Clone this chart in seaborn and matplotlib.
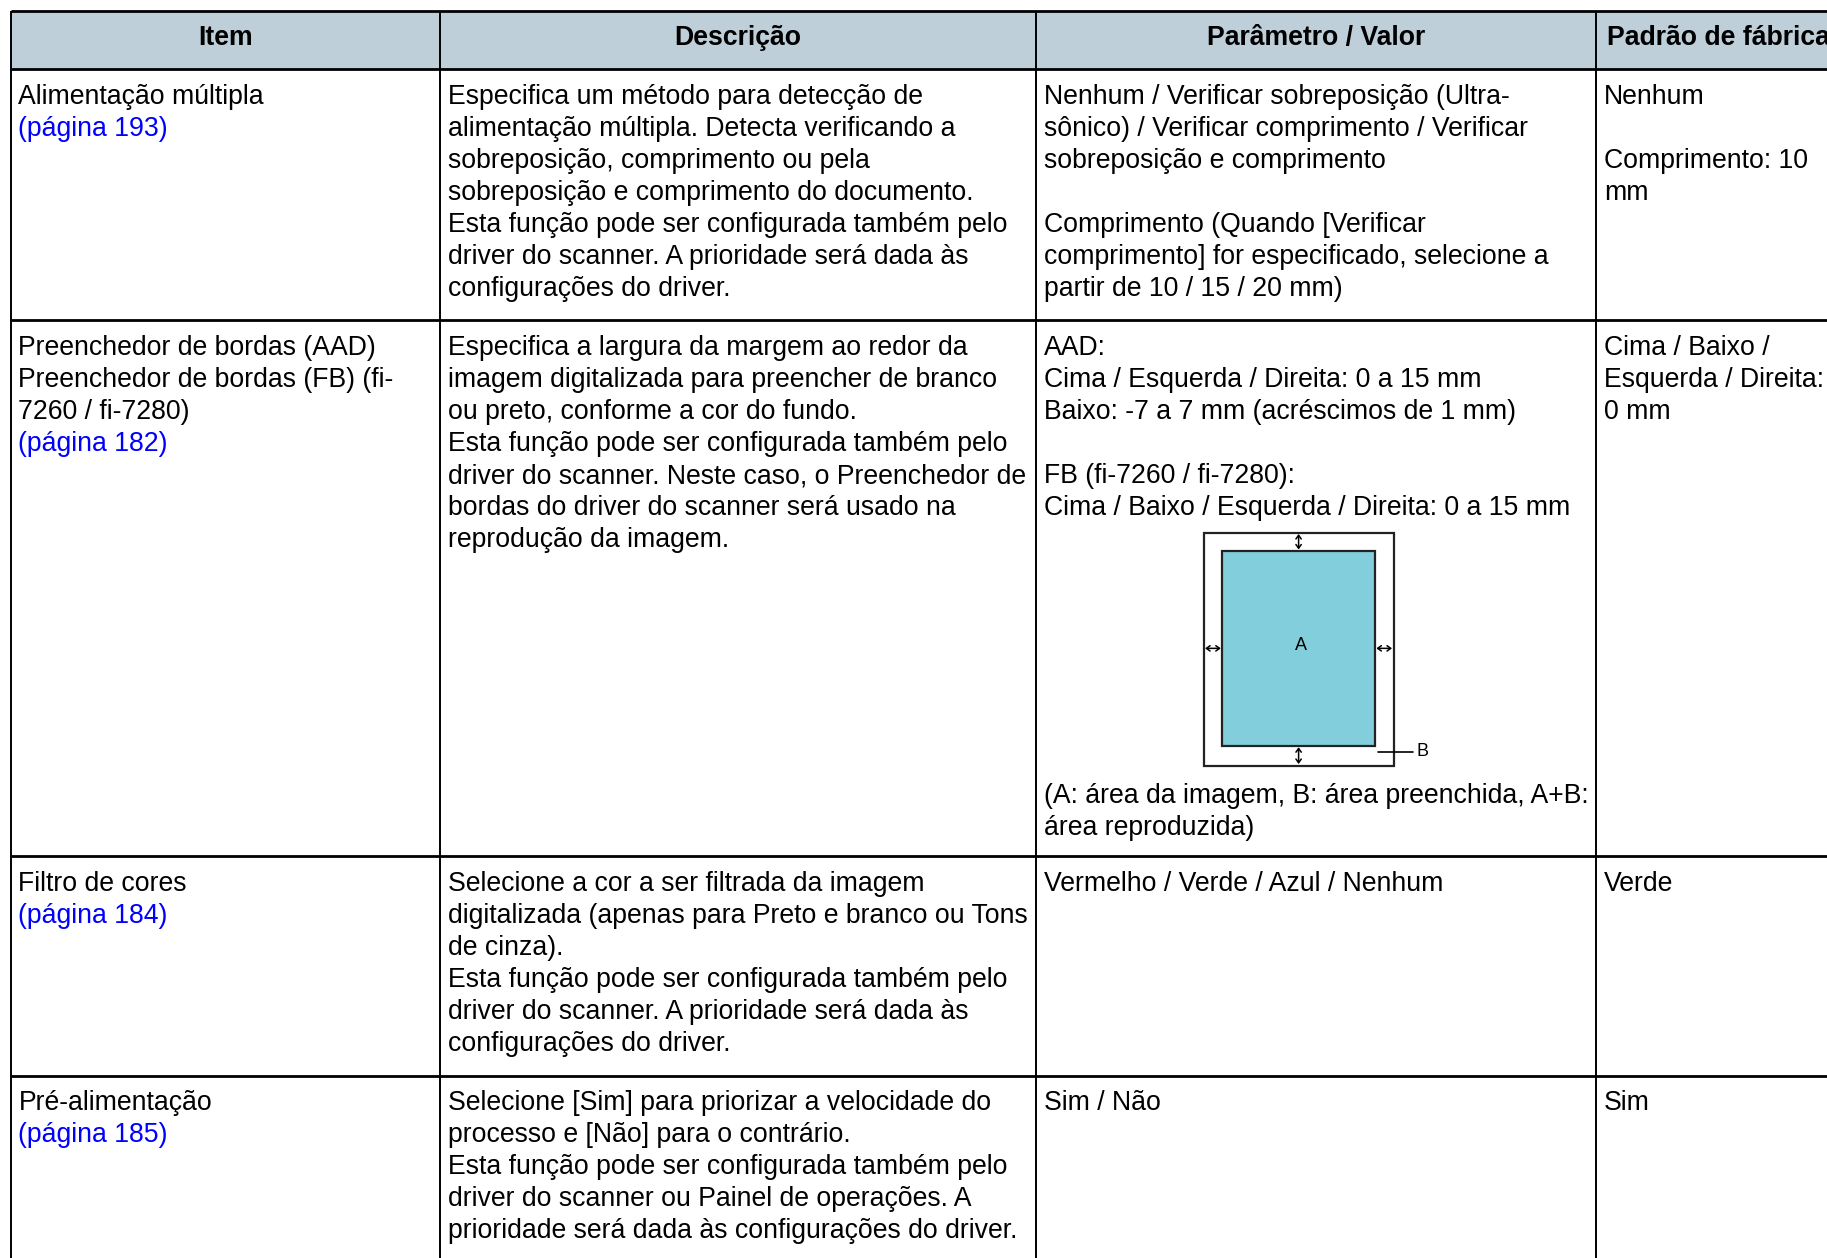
import matplotlib
matplotlib.use("Agg")
import matplotlib.pyplot as plt
from matplotlib.patches import Rectangle
import seaborn as sns

sns.set_theme(style="white")
plt.rcParams['font.family'] = ['Liberation Sans', 'DejaVu Sans']

# table content
headers = ['Item', 'Descrição', 'Parâmetro / Valor', 'Padrão de fábrica']

item_lines = [
    ['Alimentação múltipla'],
    ['Preenchedor de bordas (AAD)', 'Preenchedor de bordas (FB) (fi-', '7260 / fi-7280)'],
    ['Filtro de cores'],
    ['Pré-alimentação'],
]
page_links = ['(página 193)', '(página 182)', '(página 184)', '(página 185)']

desc_lines = [
    ['Especifica um método para detecção de',
     'alimentação múltipla. Detecta verificando a',
     'sobreposição, comprimento ou pela',
     'sobreposição e comprimento do documento.',
     'Esta função pode ser configurada também pelo',
     'driver do scanner. A prioridade será dada às',
     'configurações do driver.'],
    ['Especifica a largura da margem ao redor da',
     'imagem digitalizada para preencher de branco',
     'ou preto, conforme a cor do fundo.',
     'Esta função pode ser configurada também pelo',
     'driver do scanner. Neste caso, o Preenchedor de',
     'bordas do driver do scanner será usado na',
     'reprodução da imagem.'],
    ['Selecione a cor a ser filtrada da imagem',
     'digitalizada (apenas para Preto e branco ou Tons',
     'de cinza).',
     'Esta função pode ser configurada também pelo',
     'driver do scanner. A prioridade será dada às',
     'configurações do driver.'],
    ['Selecione [Sim] para priorizar a velocidade do',
     'processo e [Não] para o contrário.',
     'Esta função pode ser configurada também pelo',
     'driver do scanner ou Painel de operações. A',
     'prioridade será dada às configurações do driver.'],
]

param_lines = [
    ['Nenhum / Verificar sobreposição (Ultra-',
     'sônico) / Verificar comprimento / Verificar',
     'sobreposição e comprimento',
     '',
     'Comprimento (Quando [Verificar',
     'comprimento] for especificado, selecione a',
     'partir de 10 / 15 / 20 mm)'],
    ['AAD:',
     'Cima / Esquerda / Direita: 0 a 15 mm',
     'Baixo: -7 a 7 mm (acréscimos de 1 mm)',
     '',
     'FB (fi-7260 / fi-7280):',
     'Cima / Baixo / Esquerda / Direita: 0 a 15 mm',
     '', '', '', '', '', '', '', '',
     '(A: área da imagem, B: área preenchida, A+B:',
     'área reproduzida)'],
    ['Vermelho / Verde / Azul / Nenhum'],
    ['Sim / Não'],
]

default_lines = [
    ['Nenhum', '', 'Comprimento: 10', 'mm'],
    ['Cima / Baixo /', 'Esquerda / Direita:', '0 mm'],
    ['Verde'],
    ['Sim'],
]

# layout (pixels)
W, H = 1827, 1258
col_x = [10.5, 440, 1036, 1596, W]
row_y = [10.5, 68.7, 320.4, 856.4, 1075.5, H]
pad_x = 8
first_base = 35.0
line_h = 32.0
fs = 19.2
header_bg = '#BFCFDA'
link_color = '#0000FF'

fig = plt.figure(figsize=(W / 100, H / 100), dpi=100)
ax = fig.add_axes([0, 0, 1, 1])
ax.set_xlim(0, W)
ax.set_ylim(H, 0)
ax.axis('off')

# header
ax.add_patch(Rectangle((col_x[0], row_y[0]), W - col_x[0], row_y[1] - row_y[0],
                       facecolor=header_bg, edgecolor='none', zorder=0))
hy = (row_y[0] + row_y[1]) / 2 - 2
for i, h in enumerate(headers[:3]):
    ax.text((col_x[i] + col_x[i + 1]) / 2, hy, h, ha='center', va='center',
            fontsize=fs, fontweight='bold', color='black')
ax.text(col_x[3] + 11, hy, headers[3], ha='left', va='center',
        fontsize=fs, fontweight='bold', color='black')


def put_lines(col, row, lines, start=0, color='black'):
    for k, s in enumerate(lines):
        if s:
            ax.text(col_x[col] + pad_x, row_y[row + 1] + first_base + (start + k) * line_h,
                    s, ha='left', va='baseline', fontsize=fs, color=color)


for r in range(4):
    put_lines(0, r, item_lines[r])
    put_lines(0, r, [page_links[r]], start=len(item_lines[r]), color=link_color)
    put_lines(1, r, desc_lines[r])
    put_lines(2, r, param_lines[r])
    put_lines(3, r, default_lines[r])

# margin diagram in row 2, column 3
ox0, ox1, oy0, oy1 = 1203.6, 1393.5, 532.5, 765.5
ix0, ix1, iy0, iy1 = 1222.3, 1374.9, 551.0, 745.7
ax.add_patch(Rectangle((ox0, oy0), ox1 - ox0, oy1 - oy0, facecolor='white',
                       edgecolor='#222222', lw=1.6, zorder=2))
ax.add_patch(Rectangle((ix0, iy0), ix1 - ix0, iy1 - iy0, facecolor='#82CEDC',
                       edgecolor='#222222', lw=1.6, zorder=3))
ax.text((ix0 + ix1) / 2 + 2, (iy0 + iy1) / 2 - 3, 'A', ha='center', va='center',
        fontsize=13, color='black', zorder=4)
cx = (ix0 + ix1) / 2
cy = (iy0 + iy1) / 2
arrow = dict(arrowstyle='<->,head_length=0.22,head_width=0.16', lw=1.1, color='black',
             mutation_scale=12, shrinkA=0, shrinkB=0)
ax.annotate('', xy=(cx, oy0 + 1.5), xytext=(cx, iy0 - 1.5), arrowprops=arrow, zorder=4)
ax.annotate('', xy=(cx, iy1 + 1.5), xytext=(cx, oy1 - 1.5), arrowprops=arrow, zorder=4)
ax.annotate('', xy=(ox0 + 1.5, cy), xytext=(ix0 - 1.5, cy), arrowprops=arrow, zorder=4)
ax.annotate('', xy=(ix1 + 1.5, cy), xytext=(ox1 - 1.5, cy), arrowprops=arrow, zorder=4)
ax.plot([1378, 1413], [751.5, 751.5], color='black', lw=1.2, zorder=4)
ax.text(1417, 752, 'B', ha='left', va='center', fontsize=13, color='black', zorder=4)

# grid lines
for y in row_y[:-1]:
    ax.plot([col_x[0], W], [y, y], color='black', lw=2.0, solid_capstyle='butt', zorder=5)
for x in col_x[:-1]:
    ax.plot([x, x], [row_y[0], H], color='black', lw=1.4, solid_capstyle='butt', zorder=5)

fig.savefig('out.png', dpi=100, facecolor='white')
